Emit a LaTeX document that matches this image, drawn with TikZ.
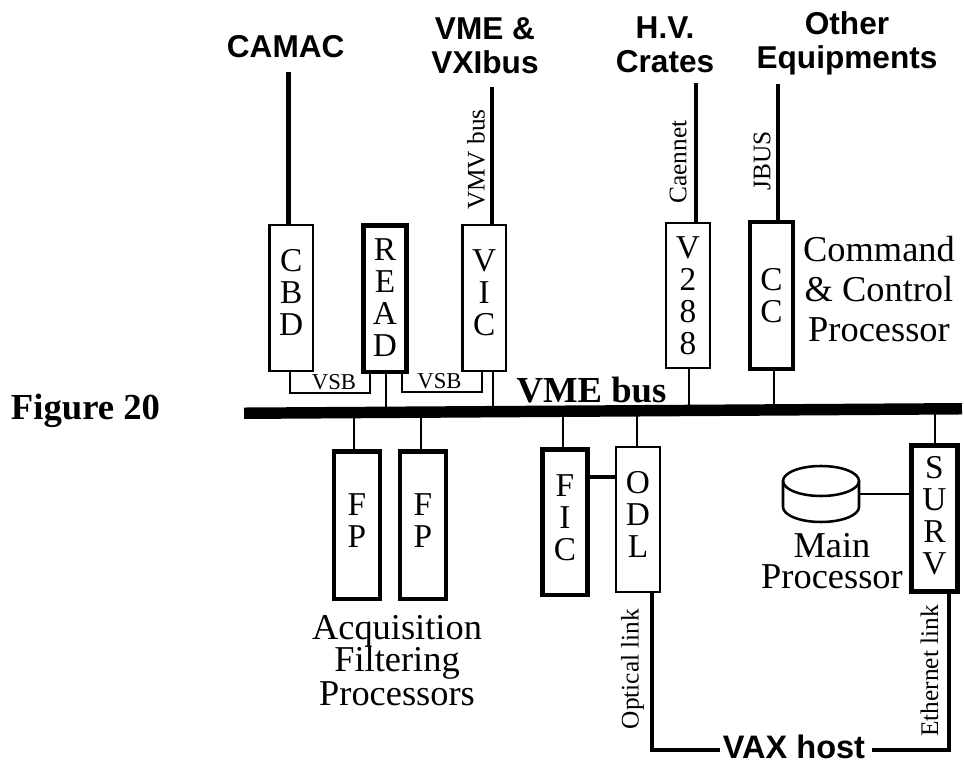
\documentclass[tikz,border=0pt]{standalone}
\usepackage{fontspec}
\setmainfont{Liberation Serif}
\newfontfamily\headfont{Liberation Sans}
\tikzset{
  x=0.75pt,y=-0.75pt,
  modbase/.style={draw,fill=white,inner sep=0pt,outer sep=0pt,font=\fontsize{25}{24}\selectfont},
  mod/.style={modbase,line width=1.9pt},
  modthick/.style={modbase,line width=3.4pt},
  wire/.style={line width=1.9pt},
  link/.style={line width=3.4pt},
  head/.style={font=\headfont\bfseries\fontsize{23.7}{25.5}\selectfont,align=center,inner sep=0pt},
  note/.style={font=\fontsize{19}{20}\selectfont,rotate=90,inner sep=0pt},
  vsb/.style={font=\fontsize{17}{18}\selectfont,inner sep=0pt},
  captxt/.style={font=\fontsize{27.3}{23.6}\selectfont,align=center,inner sep=0pt},
}
% style, name, shift up of the text (pt), text, x0, y0, x1, y1 (line centres in px)
\newcommand{\stk}[2]{\raisebox{\dimexpr#1-9.85pt\relax}[0pt][0pt]{\begin{tabular}{@{}c@{}}#2\end{tabular}}}
\newcommand{\modbox}[8]{%
  \pgfmathsetmacro{\mw}{(#7-#5)*0.75}\pgfmathsetmacro{\mh}{(#8-#6)*0.75}%
  \node[#1,minimum width=\mw pt,minimum height=\mh pt] (#2) at ({(#5+#7)/2},{(#6+#8)/2}) {\stk{#3}{#4}};}
\begin{document}
\begin{tikzpicture}
\useasboundingbox (0,0) rectangle (964,762);
% modules
\modbox{mod}{cbd}{4.5pt}{C\\B\\D}{269.5}{225}{313}{371}
\modbox{modthick}{read}{1pt}{R\\E\\A\\D}{363.5}{225.5}{406.5}{372}
\modbox{mod}{vic}{4.5pt}{V\\I\\C}{462.5}{225}{506}{371}
\modbox{mod}{vtwo}{0pt}{V\\2\\8\\8}{666}{223}{710}{368}
\modbox{modthick}{cc}{0pt}{C\\C}{750}{222}{793}{369}
\modbox{modthick}{fpa}{3.75pt}{F\\P}{334}{451.5}{380}{599}
\modbox{modthick}{fpb}{3.75pt}{F\\P}{400}{451.5}{446}{599}
\modbox{modthick}{fic}{3.4pt}{F\\I\\C}{542.5}{449.5}{587.5}{595}
\modbox{mod}{odl}{4pt}{O\\D\\L}{616}{447}{660}{592}
\modbox{modthick}{surv}{2.6pt}{S\\U\\R\\V}{911.5}{445.5}{957.5}{591.5}
% bus
\node[fill=black,inner sep=0pt,outer sep=0pt,minimum width=538.5pt,minimum height=8.6pt,rotate=0.36] (bus) at (603,411) {};
\node[font=\bfseries\fontsize{27.5}{28}\selectfont,inner sep=0pt] (busname) at (591.5,390.5) {VME bus};
\node[font=\bfseries\fontsize{27.5}{28}\selectfont,inner sep=0pt] (fig) at (85.5,411) {Figure 20};
% headings
\node[head] (camac) at (285.7,47) {CAMAC};
\node[head] (vme) at (485,46) {VME \&\\VXIbus};
\node[head] (hv) at (665,45) {H.V.\\Crates};
\node[head] (other) at (847,43) {Other\\Equipments};
\node[head,font=\headfont\bfseries\fontsize{24.4}{26}\selectfont] (vax) at (794,747) {VAX host};
% free ends of the field links
\coordinate (camacend) at (288.5,72);
\coordinate (vmeend) at (492,87);
\coordinate (hvend) at (696,83);
\coordinate (otherend) at (778,84);
\draw[link] (camacend) -- (camacend |- cbd.north);
\draw[link] (vmeend) -- (vmeend |- vic.north);
\draw[link] (hvend) -- (hvend |- vtwo.north);
\draw[link] (otherend) -- (otherend |- cc.north);
% bus stubs
\foreach \nm/\xx/\anc in {read/386/south,vic/493/south,vtwo/689/south,cc/774/south,fpa/354/north,fpb/421/north,fic/563/north,odl/637/north,surv/935/north}{
  \draw[wire] (\xx,0 |- \nm.\anc) -- (\xx,0 |- bus.center);
}
% VSB links
\draw[wire] (290,0 |- cbd.south) |- (370,393) -- (370,0 |- read.south);
\draw[wire] (402,0 |- read.south) |- (482,392) -- (482,0 |- vic.south);
\node[vsb] (vsba) at (334,382) {VSB};
\node[vsb] (vsbb) at (439.5,381.5) {VSB};
% notes
\node[note] (vmv) at (476,159.5) {VMV bus};
\node[note] (caen) at (678,162) {Caennet};
\node[note] (jbus) at (762,161) {JBUS};
\node[note] (opt) at (632.5,669) {Optical link};
\node[note] (eth) at (929.5,671) {Ethernet link};
% FIC - ODL
\draw[link] (fic.east |- 0,477) -- (odl.west |- 0,477);
% disk
\node[inner sep=0pt,outer sep=0pt,minimum width=57pt,minimum height=42pt] (disk) at (821,494) {};
\draw[wire] (821,481) ellipse [x radius=28.5pt,y radius=11.25pt];
\draw[wire] (783,481) -- (783,507) arc [start angle=180,end angle=360,x radius=28.5pt,y radius=11.25pt] -- (859,481);
\draw[wire] (disk.east) -- (disk.east -| surv.west);
% host links
\draw[link] (652,0 |- odl.south) |- ([xshift=-2pt,yshift=-2.2pt]vax.west);
\draw[link] (949,0 |- surv.south) |- ([xshift=5pt,yshift=-2.2pt]vax.east);
% captions
\node[captxt,font=\fontsize{27.3}{30}\selectfont] (cmd) at (879,289) {Command\\\& Control\\Processor};
\node[captxt] (main) at (832,561) {Main\\Processor};
\node[captxt] (acq) at (397,660.5) {Acquisition\\[-1.7pt]Filtering\\[0.3pt]Processors};
\end{tikzpicture}
\end{document}
